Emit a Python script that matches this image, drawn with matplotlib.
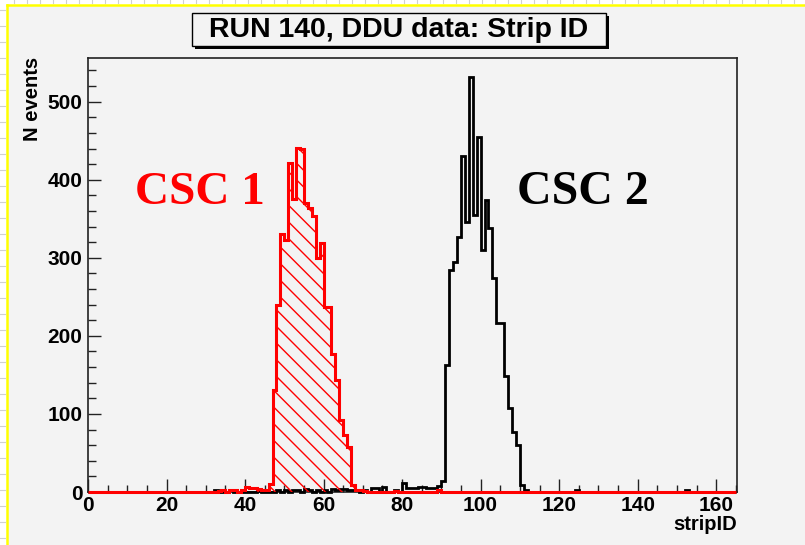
import numpy as np
import matplotlib
matplotlib.use('Agg')
import matplotlib.pyplot as plt
from matplotlib.patches import Rectangle
from matplotlib.lines import Line2D
from matplotlib.ticker import MultipleLocator

plt.rcParams['font.family'] = ['Liberation Sans', 'DejaVu Sans']
plt.rcParams['hatch.linewidth'] = 1.0

# strip ID histograms, bins of width 1 from 0 to 165
n_bins = 165
red_first = 33
red_counts = [1, 2, 0, 2, 2, 0, 2, 7, 5, 5, 4, 3, 3, 10,            # 33-46
              131, 240, 331, 323, 421, 376, 441, 439, 370, 364,     # 47-56
              354, 300, 319, 237, 237, 177, 144, 92, 73, 58,        # 57-66
              9, 3, 2, 1, 0, 0, 0, 0, 0, 0, 0, 1, 0, 0, 0, 0, 0,   # 67-83
              0, 0, 0, 0, 0, 2]                                     # 84-89
black_first = 32
black_counts = [3, 0, 0, 0, 2, 0, 0, 0, 0, 0, 0, 1, 0, 0, 0, 0,     # 32-47
                2, 0, 2, 0, 3, 2, 0, 4, 3, 0, 2, 0, 3, 0, 4, 3,     # 48-63
                4, 4, 3, 2, 2, 0, 3, 0, 5, 5, 0, 6, 0, 0, 2, 0,     # 64-79
                12, 5, 5, 5, 7, 7, 5, 5, 5, 8, 14,                  # 80-90
                163, 285, 295, 327, 431, 346, 532, 355, 455, 310,   # 91-100
                374, 338, 274, 216, 216, 148, 107, 77, 60, 9,       # 101-110
                2]                                                  # 111
black_extra = {124: 2, 152: 2}

x_max = 165.3
y_max = 556
x_ticks_major = 20
y_ticks_major = 100


def full_hist(first, counts):
    h = np.zeros(n_bins)
    h[first:first + len(counts)] = counts
    return h


def main():
    edges = np.arange(n_bins + 1)
    red = full_hist(red_first, red_counts)
    black = full_hist(black_first, black_counts)
    for k, v in black_extra.items():
        black[k] = v

    W, H = 805, 545
    fig = plt.figure(figsize=(W / 100, H / 100), dpi=100)
    fig.patch.set_facecolor('white')
    bg = '#f3f3f3'

    # canvas background and yellow page border
    fig.patches.append(Rectangle((7 / W, 0), 1, 1 - 4.5 / H, transform=fig.transFigure,
                                 facecolor=bg, edgecolor='none', zorder=-5))
    fig.lines.append(Line2D([7 / W, 7 / W], [0, 1 - 4.5 / H], transform=fig.transFigure,
                            color='#ffff00', lw=1.8, zorder=-4))
    fig.lines.append(Line2D([7 / W, 1], [1 - 4.5 / H, 1 - 4.5 / H], transform=fig.transFigure,
                            color='#ffff00', lw=1.8, zorder=-4))
    for py in range(10, H, 16):
        fig.lines.append(Line2D([0, 5 / W], [1 - py / H] * 2, transform=fig.transFigure,
                                color='#d0d0d0', lw=0.8, zorder=-4))
    for px in range(14, W, 13):
        fig.lines.append(Line2D([px / W] * 2, [1, 1 - 3 / H], transform=fig.transFigure,
                                color='#d0d0d0', lw=0.8, zorder=-4))

    ax = fig.add_axes([88 / W, 1 - 492 / H, (737 - 88) / W, (492 - 58) / H])
    ax.set_facecolor(bg)

    ax.stairs(black, edges, color='black', lw=2.0, zorder=3, clip_on=False)
    ax.stairs(red, edges, fill=True, facecolor='none', edgecolor='red',
              hatch='\\\\', lw=0, zorder=3.5)
    ax.stairs(red, edges, color='red', lw=2.2, zorder=4, clip_on=False)

    ax.set_xlim(0, x_max)
    ax.set_ylim(0, y_max)
    ax.xaxis.set_major_locator(MultipleLocator(x_ticks_major))
    ax.xaxis.set_minor_locator(MultipleLocator(5))
    ax.yaxis.set_major_locator(MultipleLocator(y_ticks_major))
    ax.yaxis.set_minor_locator(MultipleLocator(20))
    ax.tick_params(which='both', direction='in', top=False, right=False,
                   color='#222222', width=1.0, labelsize=15)
    ax.tick_params(axis='x', which='major', length=9.5, pad=3)
    ax.tick_params(axis='x', which='minor', length=5)
    ax.tick_params(axis='y', which='major', length=9.5, pad=4)
    ax.tick_params(axis='y', which='minor', length=6)
    for lab in ax.get_xticklabels() + ax.get_yticklabels():
        lab.set_fontweight('bold')
    for sp in ax.spines.values():
        sp.set_color('#222222')
        sp.set_linewidth(1.2)

    ax.text(1.0, -0.054, 'stripID', transform=ax.transAxes, ha='right', va='top',
            fontsize=14.5, fontweight='bold')
    fig.text(33 / W, 1 - 57 / H, 'N events', rotation=90, ha='center', va='top',
             fontsize=14.5, fontweight='bold')

    ax.text(0.072, 0.664, 'CSC 1', transform=ax.transAxes, color='red',
            fontsize=34, fontweight='bold', family='Liberation Serif', va='baseline')
    ax.text(0.661, 0.664, 'CSC 2', transform=ax.transAxes, color='black',
            fontsize=34.5, fontweight='bold', family='Liberation Serif', va='baseline')

    # title box with shadow
    bx0, bx1, by0, by1 = 192, 606, 13, 46
    fig.patches.append(Rectangle(((bx0 + 3) / W, 1 - (by1 + 3) / H), (bx1 - bx0) / W,
                                 (by1 - by0) / H, transform=fig.transFigure,
                                 facecolor='black', edgecolor='none', zorder=5))
    fig.patches.append(Rectangle((bx0 / W, 1 - by1 / H), (bx1 - bx0) / W, (by1 - by0) / H,
                                 transform=fig.transFigure, facecolor=bg,
                                 edgecolor='black', lw=1.0, zorder=6))
    fig.text((bx0 + bx1) / 2 / W, 1 - 30 / H, 'RUN 140, DDU data: Strip ID',
             ha='center', va='center', fontsize=20.5, fontweight='bold', zorder=7)

    fig.savefig('out.png', dpi=100, facecolor=fig.get_facecolor())


if __name__ == '__main__':
    main()
